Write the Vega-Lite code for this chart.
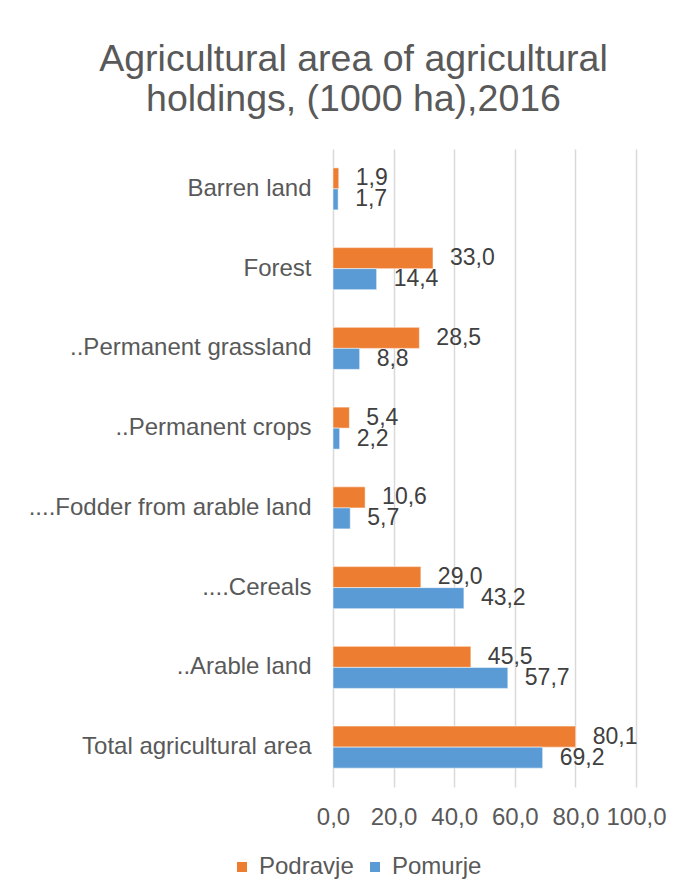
{
  "$schema": "https://vega.github.io/schema/vega-lite/v6.json",
  "autosize": {"type": "none"},
  "width": 303,
  "height": 638,
  "padding": {"left": 333, "top": 149, "right": 52, "bottom": 109},
  "background": "white",
  "title": {
    "text": ["Agricultural area of agricultural", "holdings, (1000 ha),2016"],
    "font": "Liberation Sans",
    "fontSize": 37.5,
    "fontWeight": "normal",
    "color": "#595959",
    "lineHeight": 40,
    "anchor": "middle",
    "frame": "group",
    "dx": -131,
    "offset": 31
  },
  "config": {
    "locale": {"number": {"decimal": ",", "thousands": ".", "grouping": [3], "currency": ["", " €"]}},
    "view": {"stroke": null},
    "font": "Liberation Sans"
  },
  "data": {
    "values": [
      {"category": "Barren land", "region": "Podravje", "value": 1.9},
      {"category": "Barren land", "region": "Pomurje", "value": 1.7},
      {"category": "Forest", "region": "Podravje", "value": 33.0},
      {"category": "Forest", "region": "Pomurje", "value": 14.4},
      {"category": "..Permanent grassland", "region": "Podravje", "value": 28.5},
      {"category": "..Permanent grassland", "region": "Pomurje", "value": 8.8},
      {"category": "..Permanent crops", "region": "Podravje", "value": 5.4},
      {"category": "..Permanent crops", "region": "Pomurje", "value": 2.2},
      {"category": "....Fodder from arable land", "region": "Podravje", "value": 10.6},
      {"category": "....Fodder from arable land", "region": "Pomurje", "value": 5.7},
      {"category": "....Cereals", "region": "Podravje", "value": 29.0},
      {"category": "....Cereals", "region": "Pomurje", "value": 43.2},
      {"category": "..Arable land", "region": "Podravje", "value": 45.5},
      {"category": "..Arable land", "region": "Pomurje", "value": 57.7},
      {"category": "Total agricultural area", "region": "Podravje", "value": 80.1},
      {"category": "Total agricultural area", "region": "Pomurje", "value": 69.2}
    ]
  },
  "encoding": {
    "y": {
      "field": "category",
      "type": "nominal",
      "sort": ["Barren land", "Forest", "..Permanent grassland", "..Permanent crops", "....Fodder from arable land", "....Cereals", "..Arable land", "Total agricultural area"],
      "scale": {"paddingInner": 0.473, "paddingOuter": 0.2365},
      "axis": {
        "title": null,
        "domain": false,
        "ticks": false,
        "labelPadding": 22,
        "labelFontSize": 24,
        "labelColor": "#595959",
        "labelFont": "Liberation Sans",
        "labelLimit": 400
      }
    },
    "yOffset": {"field": "region", "type": "nominal", "sort": ["Podravje", "Pomurje"], "scale": {"paddingInner": 0, "paddingOuter": 0}},
    "x": {
      "field": "value",
      "type": "quantitative",
      "scale": {"domain": [0, 100], "nice": false},
      "axis": {
        "title": null,
        "values": [0, 20, 40, 60, 80, 100],
        "format": ".1f",
        "domain": false,
        "ticks": false,
        "grid": true,
        "gridColor": "#d9d9d9",
        "gridWidth": 1.5,
        "labelPadding": 18,
        "labelFontSize": 24,
        "labelColor": "#595959",
        "labelFont": "Liberation Sans",
        "labelFlush": false
      }
    }
  },
  "layer": [
    {
      "mark": {"type": "bar", "stroke": "white", "strokeWidth": 0.5},
      "encoding": {
        "color": {
          "field": "region",
          "type": "nominal",
          "sort": ["Podravje", "Pomurje"],
          "scale": {"domain": ["Podravje", "Pomurje"], "range": ["#ED7D31", "#5B9BD5"]},
          "legend": {
            "title": null,
            "orient": "none",
            "direction": "horizontal",
            "legendX": -103,
            "legendY": 706,
            "symbolType": "square",
            "symbolSize": 100,
            "symbolStrokeWidth": 0,
            "labelFontSize": 24,
            "labelColor": "#595959",
            "labelFont": "Liberation Sans",
            "labelOffset": 5,
            "columnPadding": 9
          }
        }
      }
    },
    {
      "mark": {"type": "text", "align": "left", "baseline": "middle", "dx": 17, "fontSize": 23, "color": "#404040", "font": "Liberation Sans"},
      "encoding": {
        "text": {"field": "value", "type": "quantitative", "format": ".1f"}
      }
    }
  ]
}
